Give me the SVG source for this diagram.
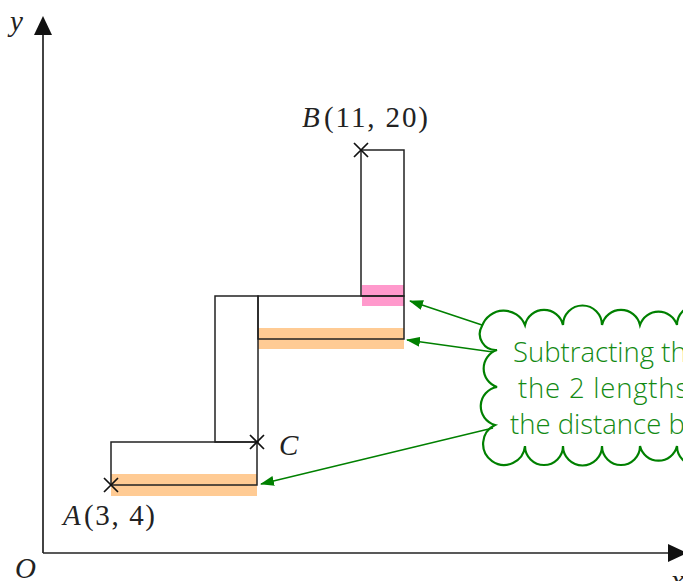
<svg xmlns="http://www.w3.org/2000/svg" width="683" height="581" viewBox="0 0 683 581">
<style>
.ln{stroke:#222;stroke-width:1.5;fill:none}
.ax{stroke:#222;stroke-width:1.7;fill:none}
.cr{stroke:#111;stroke-width:1.7}
.lbl{font-family:"Liberation Serif","Times New Roman",serif;font-size:29px;fill:#222}
.it{font-style:italic}
.gl{stroke:#008000;stroke-width:1.4;fill:none}
.ct{font-family:"Open Sans","Noto Sans",sans-serif;font-weight:300;font-size:27.5px;fill:#138a13}
</style>
<defs>
<marker id="ga" markerUnits="userSpaceOnUse" markerWidth="14" markerHeight="10" refX="13" refY="5" orient="auto">
<path d="M0,0 L14,5 L0,10 z" fill="#008000"/>
</marker>
</defs>
<g id="axes">
<line class="ax" x1="43" y1="553" x2="43" y2="32"/>
<polygon points="43,16 34,35 52,35" fill="#111"/>
<line class="ax" x1="43" y1="553" x2="670" y2="553"/>
<polygon points="687,553 668,544 668,562" fill="#111"/>
<text class="lbl it" x="10" y="31">y</text>
<text class="lbl it" x="671" y="590">x</text>
<text class="lbl it" x="15" y="578">O</text>
</g>
<g id="bands">
<rect x="111" y="474" width="146" height="22" fill="#FFCB94"/>
<rect x="258" y="328" width="146" height="21" fill="#FFCB94"/>
<rect x="362" y="285" width="42" height="21" fill="#FF99CC"/>
</g>
<g id="rectA"><rect class="ln" x="111" y="442" width="146" height="43"/></g>
<g id="rectVert"><rect class="ln" x="215" y="296" width="43" height="146"/></g>
<g id="rectHoriz"><rect class="ln" x="258" y="296" width="146" height="43"/></g>
<g id="rectTop"><rect class="ln" x="361" y="150" width="43" height="146"/></g>
<g id="pointA">
<path class="cr" d="M104,478 L118,492 M104,492 L118,478"/>
<text class="lbl" x="63" y="525"><tspan class="it">A</tspan><tspan x="84" textLength="71" lengthAdjust="spacing">(3, 4)</tspan></text>
</g>
<g id="pointB">
<path class="cr" d="M354,143 L368,157 M354,157 L368,143"/>
<text class="lbl" x="302" y="127"><tspan class="it">B</tspan><tspan x="324" textLength="104" lengthAdjust="spacing">(11, 20)</tspan></text>
</g>
<g id="pointC">
<path class="cr" d="M250,435 L264,449 M250,449 L264,435"/>
<text class="lbl it" x="279" y="455">C</text>
</g>
<g id="cloud">
<path d="M482,326 A23,23 0 0 1 525,325 A19.5,19.5 0 0 1 563,325 A19.5,19.5 0 0 1 602,325 A19.5,19.5 0 0 1 640,325 A19.5,19.5 0 0 1 677,325 A19.5,19.5 0 0 1 716,325 L716,446 A19,19 0 0 1 677,446 A19,19 0 0 1 640,446 A19,19 0 0 1 602,446 A19,19 0 0 1 563,446 A19,19 0 0 1 525,446 A21,21 0 1 1 495,425 A19.5,19.5 0 0 1 497,387 A19.5,19.5 0 0 1 497,350 A16,16 0 0 1 482,326 Z" fill="#fff" stroke="#008000" stroke-width="2.2"/>
<text class="ct" x="513" y="362">Subtracting th</text>
<text class="ct" x="518" y="398" letter-spacing="0.8">the 2 lengths</text>
<text class="ct" x="510" y="434">the distance b</text>
</g>
<g id="connectors">
<line class="gl" x1="482" y1="325" x2="410" y2="301" marker-end="url(#ga)"/>
<line class="gl" x1="493" y1="352" x2="407" y2="340" marker-end="url(#ga)"/>
<line class="gl" x1="493" y1="428" x2="261" y2="484" marker-end="url(#ga)"/>
</g>
</svg>
